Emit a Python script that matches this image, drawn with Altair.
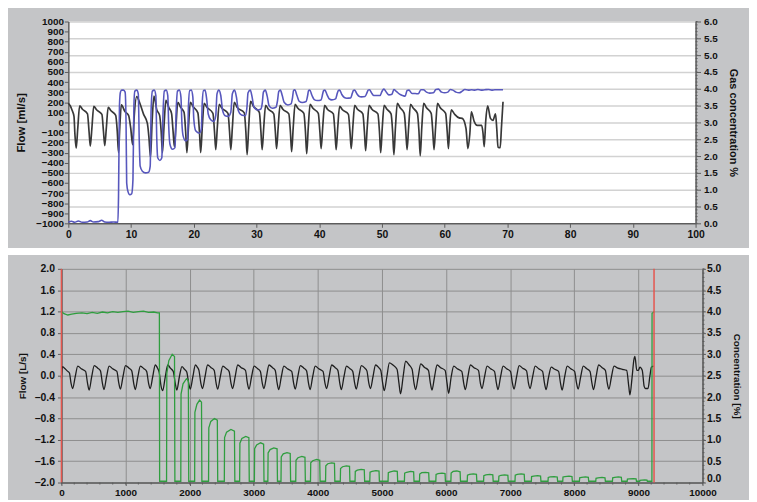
import altair as alt
import pandas as pd

FONT = "Liberation Sans"
BG = "#c4c5c7"

# ---------------- top panel values ----------------
TOP_X_TICKS = [0, 10, 20, 30, 40, 50, 60, 70, 80, 90, 100]
TOP_FLOW_TICKS = list(range(-1000, 1001, 100))
TOP_GAS_TICKS = [0.0, 0.5, 1.0, 1.5, 2.0, 2.5, 3.0, 3.5, 4.0, 4.5, 5.0, 5.5, 6.0]
TOP_GAS_MINOR = [round(i * 0.1, 1) for i in range(61)]

# flow [ml/s] vs time [s]
top_flow = [
    (0.0, 190), (0.3, 165), (0.6, 120), (0.9, 60), (1.05, -120),
    (1.25, -255), (1.5, -60), (1.8, 165), (2.25, 130), (3.05, 85), (3.3, -90),
    (3.5, -235), (3.75, -60), (4.05, 160), (4.5, 125), (5.35, 80), (5.6, -90),
    (5.8, -230), (6.05, -60), (6.35, 150), (6.8, 115), (7.55, 70), (7.8, -90),
    (8.0, -300), (8.2, -50), (8.45, 175), (9.0, 110), (9.6, 70), (9.95, -60),
    (10.25, -220), (10.5, 60), (10.9, 255), (11.4, 190), (12.0, 80), (12.6, -10), (12.85, -150),
    (13.1, -345), (13.35, 0), (13.65, 260), (14.1, 125), (14.55, 70), (14.8, -90),
    (15.0, -300), (15.25, -40), (15.55, 220), (16.0, 150), (16.45, 90), (16.7, -90),
    (16.9, -240), (17.15, -40), (17.45, 200), (17.9, 150), (18.45, 100), (18.7, -90),
    (18.9, -300), (19.15, -50), (19.45, 200), (19.9, 155), (20.65, 95), (20.9, -90),
    (21.1, -300), (21.35, -50), (21.65, 190), (22.1, 150), (23.05, 90), (23.3, -90),
    (23.5, -270), (23.75, -50), (24.05, 180), (24.5, 140), (25.45, 90), (25.7, -90),
    (25.9, -270), (26.15, -50), (26.45, 200), (26.9, 150), (28.05, 95), (28.3, -90),
    (28.5, -320), (28.75, -50), (29.05, 210), (29.5, 160), (30.45, 100), (30.7, -90),
    (30.9, -270), (31.15, -50), (31.45, 170), (31.9, 130), (32.75, 85), (33.0, -90),
    (33.2, -260), (33.45, -50), (33.75, 170), (34.2, 130), (35.15, 85), (35.4, -90),
    (35.6, -290), (35.85, -50), (36.15, 180), (36.6, 140), (37.55, 90), (37.8, -90),
    (38.0, -310), (38.25, -50), (38.55, 180), (39.0, 140), (39.85, 90), (40.1, -90),
    (40.3, -260), (40.55, -50), (40.85, 170), (41.3, 130), (42.25, 85), (42.5, -90),
    (42.7, -270), (42.95, -50), (43.25, 160), (43.7, 125), (44.65, 80), (44.9, -90),
    (45.1, -260), (45.35, -50), (45.65, 170), (46.1, 130), (46.95, 85), (47.2, -90),
    (47.4, -280), (47.65, -50), (47.95, 170), (48.4, 130), (49.35, 85), (49.6, -90),
    (49.8, -300), (50.05, -50), (50.35, 170), (50.8, 130), (51.45, 85), (51.7, -90),
    (51.9, -320), (52.15, -50), (52.45, 190), (52.9, 145), (53.55, 90), (53.8, -90),
    (54.0, -270), (54.25, -50), (54.55, 180), (55.0, 140), (55.65, 90), (55.9, -90),
    (56.1, -330), (56.35, -50), (56.65, 190), (57.1, 145), (57.85, 90), (58.1, -90),
    (58.3, -270), (58.55, -50), (58.85, 190), (59.3, 145), (60.15, 90), (60.4, -90),
    (60.6, -260), (60.8, -40), (61.05, 125), (61.6, 80), (62.3, 45), (62.8, 40), (63.4, -60),
    (63.7, -260), (64.0, -120), (64.25, 105), (64.7, 10), (65.2, -30), (65.9, -30), (66.1, -100),
    (66.3, -240), (66.55, 20), (66.85, 165), (67.3, 40), (67.7, 20), (68.1, 85), (68.3, -60),
    (68.5, -245), (68.85, -250), (69.05, -50), (69.3, 205),
]

# gas concentration [%] vs time [s]
top_gas = [
    (0.0, 0.03), (0.5, 0.06), (1.0, 0.03), (1.6, 0.07), (2.2, 0.03), (3.0, 0.04), (3.5, 0.08),
    (4.0, 0.04), (4.8, 0.05), (5.3, 0.09), (5.8, 0.04), (6.5, 0.03), (7.2, 0.04), (7.9, 0.03),
    (8.0, 0.8), (8.15, 3.5), (8.3, 3.9), (8.5, 3.96), (8.8, 3.96), (9.05, 3.9), (9.2, 3.0),
    (9.3, 1.2), (9.5, 0.95), (9.8, 0.85), (10.1, 0.88), (10.3, 1.3), (10.45, 3.5), (10.6, 3.93),
    (10.9, 3.96), (11.15, 3.85), (11.3, 2.5), (11.45, 1.7), (11.8, 1.55), (12.3, 1.5), (12.8, 1.52),
    (13.05, 1.7), (13.2, 3.4), (13.4, 3.93), (13.7, 3.96), (13.95, 3.8), (14.1, 2.5), (14.25, 1.95),
    (14.6, 1.87), (14.9, 1.95), (15.1, 3.3), (15.3, 3.93), (15.6, 3.96), (15.85, 3.8), (16.0, 2.9),
    (16.2, 2.35), (16.6, 2.2), (17.0, 2.25), (17.2, 3.4), (17.4, 3.93), (17.7, 3.96), (17.95, 3.75),
    (18.1, 3.0), (18.3, 2.6), (18.7, 2.45), (19.0, 2.5), (19.15, 3.5), (19.35, 3.95), (19.6, 3.96),
    (19.85, 3.75), (20.0, 3.1), (20.3, 2.75), (20.9, 2.68), (21.2, 2.8), (21.35, 3.6), (21.55, 3.95),
    (21.8, 3.96), (22.05, 3.7), (22.3, 3.25), (22.7, 3.08), (23.2, 3.03), (23.5, 3.2), (23.7, 3.85),
    (24.0, 3.96), (24.3, 3.8), (24.6, 3.35), (25.0, 3.2), (25.5, 3.18), (25.9, 3.3), (26.15, 3.85),
    (26.5, 3.96), (26.8, 3.75), (27.1, 3.35), (27.6, 3.22), (28.2, 3.2), (28.45, 3.4), (28.65, 3.88),
    (29.0, 3.96), (29.3, 3.75), (29.6, 3.45), (30.2, 3.37), (30.7, 3.4), (30.9, 3.55), (31.1, 3.9),
    (31.4, 3.96), (31.7, 3.78), (32.0, 3.5), (32.5, 3.42), (33.1, 3.45), (33.35, 3.65), (33.55, 3.92),
    (33.8, 3.96), (34.1, 3.8), (34.4, 3.6), (35.0, 3.52), (35.5, 3.55), (35.75, 3.75), (35.9, 3.95),
    (36.1, 3.97), (36.45, 3.8), (36.8, 3.63), (37.3, 3.59), (37.9, 3.62), (38.15, 3.8), (38.3, 3.95),
    (38.5, 3.96), (38.85, 3.8), (39.2, 3.68), (39.7, 3.65), (40.3, 3.67), (40.55, 3.85), (40.7, 3.95),
    (40.9, 3.96), (41.25, 3.82), (41.6, 3.7), (42.0, 3.67), (42.6, 3.7), (42.9, 3.88), (43.05, 3.95),
    (43.25, 3.96), (43.6, 3.83), (44.0, 3.74), (44.4, 3.72), (45.0, 3.73), (45.3, 3.88), (45.45, 3.95),
    (45.65, 3.96), (46.0, 3.85), (46.4, 3.77), (46.7, 3.76), (47.3, 3.77), (47.65, 3.9), (47.8, 3.96),
    (48.0, 3.97), (48.4, 3.86), (48.7, 3.8), (49.0, 3.8), (49.7, 3.8), (50.0, 3.92), (50.3, 3.99),
    (50.7, 3.9), (51.1, 3.82), (51.6, 3.84), (51.9, 3.98), (52.3, 3.92), (52.8, 3.84), (53.3, 3.8),
    (53.7, 3.78), (54.0, 3.95), (54.3, 3.96), (54.8, 3.86), (55.3, 3.86), (55.8, 3.85), (56.2, 3.97),
    (56.6, 3.97), (57.1, 3.9), (57.6, 3.87), (58.2, 3.88), (58.6, 3.98), (59.0, 3.99), (59.5, 3.9),
    (60.0, 3.88), (60.5, 3.9), (60.9, 3.98), (61.3, 3.96), (61.8, 3.9), (62.3, 3.88), (62.8, 3.93),
    (63.2, 3.98), (63.8, 3.96), (64.3, 3.97), (64.8, 3.96), (65.3, 3.98), (65.8, 3.96), (66.4, 3.97),
    (67.0, 3.98), (67.5, 3.96), (68.0, 3.97), (68.6, 3.97), (69.3, 3.97),
]

# ---------------- bottom panel values ----------------
BOT_X_TICKS = [0, 1000, 2000, 3000, 4000, 5000, 6000, 7000, 8000, 9000, 10000]
BOT_X_MINOR = list(range(0, 10001, 200))
BOT_FLOW_TICKS = [-2.0, -1.6, -1.2, -0.8, -0.4, 0.0, 0.4, 0.8, 1.2, 1.6, 2.0]
BOT_CONC_TICKS = [0.0, 0.5, 1.0, 1.5, 2.0, 2.5, 3.0, 3.5, 4.0, 4.5, 5.0]
BOT_CONC_MINOR = [round(i * 0.1, 1) for i in range(51)]

# flow [L/s] vs sample
bottom_flow = [
    (0, -0.05), (15, 0.17), (40, 0.15), (90, 0.09), (125, 0.05), (150, -0.14),
    (175, -0.24), (215, -0.02), (255, 0.18), (310, 0.13), (377, 0.08), (407, -0.14),
    (432, -0.27), (472, -0.02), (512, 0.19), (567, 0.14), (609, 0.09), (639, -0.14),
    (664, -0.26), (704, -0.02), (744, 0.18), (799, 0.13), (865, 0.08), (895, -0.14),
    (920, -0.25), (960, -0.02), (1000, 0.19), (1055, 0.14), (1097, 0.09), (1127, -0.14),
    (1152, -0.26), (1192, -0.02), (1232, 0.18), (1287, 0.13), (1329, 0.08), (1359, -0.14),
    (1384, -0.24), (1424, -0.02), (1464, 0.2), (1500, 0.14), (1525, 0.06), (1555, -0.2),
    (1580, -0.28), (1620, -0.02), (1660, 0.2), (1700, 0.14), (1745, 0.08), (1775, -0.14),
    (1800, -0.27), (1840, -0.02), (1880, 0.17), (1920, 0.12), (1955, 0.07), (1985, -0.14),
    (2010, -0.25), (2050, -0.02), (2090, 0.2), (2125, 0.15), (2145, 0.1), (2175, -0.14),
    (2200, -0.24), (2240, -0.02), (2280, 0.2), (2335, 0.15), (2383, 0.1), (2413, -0.14),
    (2438, -0.25), (2478, -0.02), (2518, 0.18), (2573, 0.13), (2615, 0.08), (2645, -0.14),
    (2670, -0.24), (2710, -0.02), (2750, 0.2), (2805, 0.15), (2871, 0.1), (2901, -0.14),
    (2926, -0.25), (2966, -0.02), (3006, 0.18), (3061, 0.13), (3103, 0.08), (3133, -0.14),
    (3158, -0.24), (3198, -0.02), (3238, 0.2), (3293, 0.15), (3335, 0.1), (3365, -0.14),
    (3390, -0.26), (3430, -0.02), (3470, 0.18), (3525, 0.13), (3592, 0.08), (3622, -0.14),
    (3647, -0.25), (3687, -0.02), (3727, 0.19), (3782, 0.14), (3824, 0.09), (3854, -0.14),
    (3879, -0.26), (3919, -0.02), (3959, 0.18), (4014, 0.13), (4081, 0.08), (4111, -0.14),
    (4136, -0.24), (4176, -0.02), (4216, 0.2), (4271, 0.15), (4312, 0.1), (4342, -0.14),
    (4367, -0.26), (4407, -0.02), (4447, 0.18), (4502, 0.13), (4544, 0.08), (4574, -0.14),
    (4599, -0.25), (4639, -0.02), (4679, 0.19), (4734, 0.14), (4765, 0.09), (4795, -0.14),
    (4820, -0.24), (4860, -0.02), (4900, 0.2), (4950, 0.15), (4981, 0.1), (5011, -0.14),
    (5036, -0.28), (5076, -0.02), (5116, 0.24), (5171, 0.2), (5235, 0.12), (5265, -0.14),
    (5290, -0.34), (5330, -0.02), (5370, 0.27), (5425, 0.2), (5470, 0.12), (5500, -0.14),
    (5525, -0.26), (5565, -0.02), (5605, 0.22), (5660, 0.16), (5725, 0.1), (5755, -0.14),
    (5780, -0.27), (5820, -0.02), (5860, 0.2), (5915, 0.15), (5985, 0.1), (6015, -0.14),
    (6040, -0.33), (6080, -0.02), (6120, 0.18), (6175, 0.13), (6245, 0.08), (6275, -0.14),
    (6300, -0.26), (6340, -0.02), (6380, 0.2), (6435, 0.15), (6505, 0.1), (6535, -0.14),
    (6560, -0.24), (6600, -0.02), (6640, 0.18), (6695, 0.13), (6755, 0.08), (6785, -0.14),
    (6810, -0.26), (6850, -0.02), (6890, 0.18), (6945, 0.13), (7005, 0.08), (7035, -0.14),
    (7060, -0.25), (7100, -0.02), (7140, 0.19), (7195, 0.14), (7255, 0.09), (7285, -0.14),
    (7310, -0.24), (7350, -0.02), (7390, 0.18), (7445, 0.13), (7505, 0.08), (7535, -0.14),
    (7560, -0.26), (7600, -0.02), (7640, 0.16), (7695, 0.12), (7755, 0.08), (7785, -0.14),
    (7810, -0.27), (7850, -0.02), (7890, 0.18), (7945, 0.13), (8005, 0.08), (8035, -0.14),
    (8060, -0.25), (8100, -0.02), (8140, 0.18), (8195, 0.13), (8245, 0.08), (8275, -0.14),
    (8300, -0.26), (8340, -0.02), (8380, 0.2), (8435, 0.15), (8485, 0.1), (8515, -0.14),
    (8540, -0.25), (8580, -0.02), (8620, 0.18), (8680, 0.14), (8750, 0.12), (8817, 0.1),
    (8850, -0.2), (8868, -0.36), (8900, -0.05), (8930, 0.3), (8946, 0.36), (8975, 0.1),
    (9000, 0.1), (9023, 0.16), (9060, 0.1), (9090, -0.2), (9110, -0.24), (9150, -0.24),
    (9180, 0.0), (9203, 0.16), (9235, 0.18),
]

# concentration [%] vs sample
bottom_gas = [
    (0, 4.0), (40, 3.95), (100, 3.92), (160, 3.94), (230, 3.96), (320, 3.97), (400, 3.95),
    (480, 3.98), (560, 3.96), (640, 3.99), (720, 3.97), (800, 4.0), (880, 3.98), (960, 4.0),
    (1040, 4.01), (1120, 3.98), (1200, 4.0), (1280, 4.01), (1360, 3.98), (1440, 3.99),
    (1500, 3.97), (1528, 3.97), (1532, 0.03),
    (1640, 0.03), (1644, 2.55), (1675, 2.85), (1728, 3.0), (1764, 2.95), (1770, 0.03),
    (1862, 0.03), (1866, 2.07), (1897, 2.31), (1950, 2.43), (1980, 2.38), (1986, 0.03),
    (2078, 0.03), (2082, 1.64), (2113, 1.83), (2155, 1.93), (2185, 1.88), (2191, 0.03),
    (2295, 0.03), (2299, 1.28), (2330, 1.43), (2387, 1.5), (2432, 1.46), (2438, 0.03),
    (2541, 0.03), (2545, 1.05), (2576, 1.18), (2644, 1.24), (2699, 1.2), (2705, 0.03),
    (2780, 0.03), (2784, 0.92), (2815, 1.03), (2875, 1.08), (2924, 1.05), (2930, 0.03),
    (3010, 0.03), (3014, 0.79), (3045, 0.88), (3107, 0.93), (3154, 0.9), (3160, 0.03),
    (3220, 0.03), (3224, 0.69), (3255, 0.77), (3313, 0.81), (3364, 0.79), (3370, 0.03),
    (3425, 0.03), (3429, 0.6), (3460, 0.67), (3519, 0.7), (3569, 0.68), (3575, 0.03),
    (3655, 0.03), (3659, 0.52), (3690, 0.58), (3750, 0.61), (3799, 0.59), (3805, 0.03),
    (3885, 0.03), (3889, 0.46), (3920, 0.51), (3981, 0.54), (4029, 0.52), (4035, 0.03),
    (4120, 0.03), (4124, 0.39), (4155, 0.44), (4213, 0.46), (4259, 0.45), (4265, 0.03),
    (4350, 0.03), (4354, 0.33), (4385, 0.37), (4444, 0.39), (4494, 0.38), (4500, 0.03),
    (4580, 0.03), (4584, 0.26), (4615, 0.29), (4676, 0.31), (4724, 0.3), (4730, 0.03),
    (4810, 0.03), (4814, 0.24), (4845, 0.26), (4907, 0.28), (4954, 0.27), (4960, 0.03),
    (5095, 0.03), (5099, 0.23), (5130, 0.25), (5190, 0.27), (5239, 0.26), (5245, 0.03),
    (5350, 0.03), (5354, 0.22), (5385, 0.24), (5447, 0.26), (5494, 0.25), (5500, 0.03),
    (5585, 0.03), (5589, 0.2), (5620, 0.23), (5679, 0.24), (5729, 0.23), (5735, 0.03),
    (5840, 0.03), (5844, 0.19), (5875, 0.21), (5936, 0.22), (5984, 0.21), (5990, 0.03),
    (6075, 0.03), (6079, 0.22), (6110, 0.26), (6168, 0.27), (6219, 0.25), (6225, 0.03),
    (6330, 0.03), (6334, 0.17), (6365, 0.19), (6425, 0.2), (6474, 0.19), (6480, 0.03),
    (6585, 0.03), (6589, 0.16), (6620, 0.18), (6682, 0.19), (6729, 0.18), (6735, 0.03),
    (6820, 0.03), (6824, 0.15), (6855, 0.17), (6914, 0.18), (6964, 0.17), (6970, 0.03),
    (7075, 0.03), (7079, 0.17), (7110, 0.19), (7171, 0.2), (7219, 0.19), (7225, 0.03),
    (7330, 0.03), (7334, 0.14), (7365, 0.15), (7428, 0.16), (7474, 0.15), (7480, 0.03),
    (7590, 0.03), (7594, 0.12), (7625, 0.13), (7685, 0.14), (7734, 0.13), (7740, 0.03),
    (7820, 0.03), (7824, 0.13), (7855, 0.14), (7917, 0.15), (7964, 0.14), (7970, 0.03),
    (8080, 0.03), (8084, 0.11), (8115, 0.12), (8174, 0.13), (8219, 0.12), (8225, 0.03),
    (8335, 0.03), (8339, 0.1), (8370, 0.11), (8432, 0.12), (8479, 0.11), (8485, 0.03),
    (8595, 0.03), (8599, 0.11), (8630, 0.12), (8689, 0.13), (8734, 0.12), (8740, 0.03),
    (8825, 0.03), (8829, 0.08), (8860, 0.085), (8920, 0.09), (8964, 0.085), (8970, 0.03),
    (9020, 0.03), (9024, 0.05), (9055, 0.055), (9100, 0.06), (9134, 0.055), (9140, 0.03),
    (9211, 0.03), (9213, 3.96), (9230, 3.98), (9246, 4.0),
]

red_markers = [0, 9244]


def frame(rows, cols):
    df = pd.DataFrame(rows, columns=cols)
    df["i"] = range(len(df))
    return df


df_tf = frame(top_flow, ["t", "v"])
df_tg = frame(top_gas, ["t", "p"])
df_bf = frame(bottom_flow, ["t", "v"])
df_bg = frame(bottom_gas, ["t", "p"])
df_red = pd.DataFrame({"t": red_markers})
df_top_minor = pd.DataFrame({"p": TOP_GAS_MINOR})
df_bot_minor_y = pd.DataFrame({"p": BOT_CONC_MINOR})
df_bot_minor_x = pd.DataFrame({"t": BOT_X_MINOR})

TW, TH = 634, 204
BW, BH = 648, 216
TICK = "#5c5c5c"


def band(x, x2, y, y2, color):
    return alt.Chart(alt.Data(values=[{"k": 0}])).mark_rect(color=color).encode(
        x=alt.value(x), x2=alt.value(x2), y=alt.value(y), y2=alt.value(y2)
    )


top_x = alt.X(
    "t:Q",
    scale=alt.Scale(domain=[0, 100], nice=False, zero=False),
    axis=alt.Axis(values=TOP_X_TICKS, format="d", title=None, grid=False,
                  labelFontSize=10.5, tickSize=4, labelPadding=2,
                  labelFlush=False, labelOverlap=False),
)

top_black = alt.Chart(df_tf).mark_line(
    color="#383838", strokeWidth=1.7, interpolate="monotone"
).encode(
    x=top_x,
    y=alt.Y("v:Q", scale=alt.Scale(domain=[-1000, 1000], nice=False, zero=False),
            axis=alt.Axis(orient="left", values=TOP_FLOW_TICKS, format="d",
                          title="Flow [ml/s]", titleFontSize=11.5, labelFontSize=10,
                          tickSize=4, labelPadding=1, titlePadding=9, grid=False,
                          labelOverlap=False)),
    order="i:Q",
)

top_gas_y = alt.Y(
    "p:Q", scale=alt.Scale(domain=[0, 6], nice=False, zero=False),
    axis=alt.Axis(orient="right", values=TOP_GAS_TICKS, format=".1f",
                  title="Gas concentration %", titleFontSize=11, labelFontSize=10,
                  tickSize=5, labelPadding=3, titlePadding=10, grid=True,
                  gridColor="#d2d2d2", gridWidth=1.5, labelOverlap=False),
)

top_blue = alt.Chart(df_tg).mark_line(
    color="#5757bd", strokeWidth=1.6, interpolate="monotone"
).encode(x=top_x, y=top_gas_y, order="i:Q")

top_minor = alt.Chart(df_top_minor).mark_rule(color=TICK, strokeWidth=1).encode(
    y=top_gas_y, x=alt.value(TW), x2=alt.value(TW + 2)
)

top = alt.layer(
    band(-61, 688, 229, 236, "white"),
    band(-61, 688, -11, -10, BG),
    top_black,
    alt.layer(top_blue, top_minor),
).resolve_scale(y="independent").properties(
    width=TW, height=TH, view=alt.ViewBackground(fill="white", strokeWidth=0)
)

bot_x = alt.X(
    "t:Q",
    scale=alt.Scale(domain=[0, 10000], nice=False, zero=False),
    axis=alt.Axis(values=BOT_X_TICKS, format="d", title=None, grid=True,
                  gridColor="#8e8e8e", gridWidth=1, tickSize=3, labelPadding=2,
                  labelFontSize=10, labelFlush=False, labelOverlap=False),
)

bot_black = alt.Chart(df_bf).mark_line(
    color="#1e1e1e", strokeWidth=1.3, interpolate="monotone"
).encode(
    x=bot_x,
    y=alt.Y("v:Q", scale=alt.Scale(domain=[-2, 2], nice=False, zero=False),
            axis=alt.Axis(orient="left", values=BOT_FLOW_TICKS, format=".1f",
                          title="Flow [L/s]", titleFontSize=10, labelFontSize=10.5,
                          tickSize=4, labelPadding=3, titlePadding=7, grid=True,
                          gridColor="#8e8e8e", gridWidth=1, labelOverlap=False)),
    order="i:Q",
)

bot_conc_y = alt.Y(
    "p:Q", scale=alt.Scale(domain=[0, 5], nice=False, zero=False),
    axis=alt.Axis(orient="right", values=BOT_CONC_TICKS, format=".1f",
                  title="Concentration [%]", titleFontSize=10, labelFontSize=10.5,
                  tickSize=3, labelPadding=1, titlePadding=11, grid=False,
                  labelOverlap=False,
                  labelOffset={"condition": {"test": "datum.value == 0", "value": -4},
                               "value": 0}),
)

bot_green = alt.Chart(df_bg).mark_line(color="#2f9e3f", strokeWidth=1.3).encode(
    x=bot_x, y=bot_conc_y, order="i:Q"
)

bot_minor_y = alt.Chart(df_bot_minor_y).mark_rule(color=TICK, strokeWidth=1).encode(
    y=bot_conc_y, x=alt.value(BW), x2=alt.value(BW + 2)
)

bot_minor_x = alt.Chart(df_bot_minor_x).mark_rule(color=TICK, strokeWidth=1).encode(
    x=bot_x, y=alt.value(BH), y2=alt.value(BH + 2)
)

bot_red = alt.Chart(df_red).mark_rule(color="#e4564e", strokeWidth=1.5).encode(x=bot_x)

bottom = alt.layer(
    bot_black, alt.layer(bot_green, bot_minor_y), bot_red, bot_minor_x
).resolve_scale(y="independent").properties(width=BW, height=BH)

chart = (
    alt.vconcat(top, bottom, spacing=46, bounds="flush", center=True)
    .properties(padding=0, background=BG)
    .configure_axis(labelFont=FONT, titleFont=FONT, labelFontWeight="bold",
                    titleFontWeight="bold", labelColor="#111111", titleColor="#111111",
                    domainColor=TICK, tickColor=TICK, domainWidth=1.5)
    .configure_view(strokeWidth=0)
)

chart.save("out.html", embed_options={"renderer": "svg", "actions": False})
